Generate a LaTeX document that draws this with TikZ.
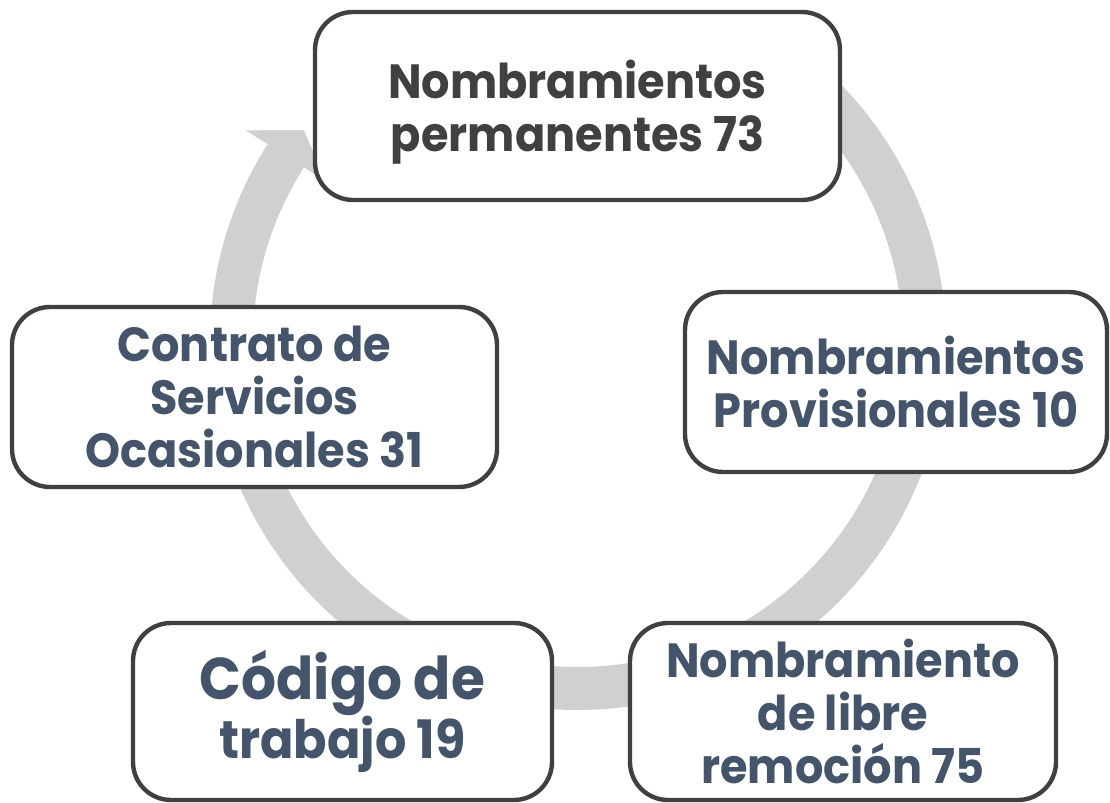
\documentclass[tikz,border=0pt]{standalone}
\usepackage{fontspec}
\setmainfont{Poppins}[BoldFont={* Bold},FakeStretch=0.93]
\usetikzlibrary{calc}
\definecolor{ringgray}{HTML}{D0D0D0}
\definecolor{boxline}{HTML}{404040}
\definecolor{slate}{HTML}{44546A}
\begin{document}
\begin{tikzpicture}[x=0.5pt,y=0.5pt,
  caja/.style={draw=boxline,line width=2.2pt,fill=white,rounded corners=19pt,
    rectangle,align=center,text=slate,font=\bfseries\fontsize{24}{26.5}\selectfont,inner sep=0pt},
  ]
 \useasboundingbox (0,0) rectangle (1110,803);
 % ring behind the boxes
 \coordinate (c) at (578,461);
 \draw[ringgray,line width=21.5pt] (c) ++(147.5:346.5) arc[start angle=147.5,end angle=420,radius=346.5];
 \fill[ringgray] ($(c)+(147.5:394)$) -- ($(c)+(142.3:346.5)$) -- ($(c)+(147.5:299)$) -- cycle;
 % boxes
 \node[caja,minimum width=262.5pt,minimum height=94pt] (perm) at (577.5,697) {};
 \node[text=boxline,align=center,font=\bfseries\fontsize{24}{26.5}\selectfont] (permtxt) at ($(perm)+(0,-6)$) {Nombramientos\\permanentes 73};
 \node[caja,minimum width=211pt,minimum height=90pt] (prov) at (896,421) {Nombramientos\\Provisionales 10};
 \node[caja,minimum width=213pt,minimum height=88.5pt] (libre) at (843,91.5) {Nombramiento\\de libre\\remoci\'on 75};
 \node[caja,minimum width=209.5pt,minimum height=88.5pt] (codigo) at (342.5,91.5) {{\fontsize{29.5}{30}\selectfont C\'odigo de}\\[-1pt]{\fontsize{26.5}{26.5}\selectfont trabajo 19}};
 \node[caja,minimum width=242.5pt,minimum height=90pt] (ocas) at (254.5,406) {Contrato de\\Servicios\\Ocasionales 31};
\end{tikzpicture}
\end{document}
